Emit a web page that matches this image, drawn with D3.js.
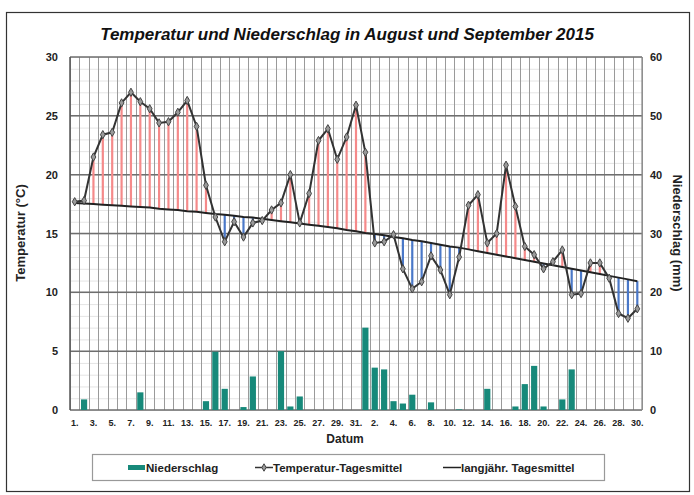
<!DOCTYPE html>
<html><head><meta charset="utf-8">
<script src="https://cdn.jsdelivr.net/npm/d3@7"></script>
<style>body{margin:0;background:#fff}svg{display:block}text{font-family:"Liberation Sans",Arial,sans-serif}</style>
</head><body><svg id="c" width="694" height="495"></svg>
<script>
const days = [];
for (let d = 1; d <= 31; d++) days.push({m: 8, d});
for (let d = 1; d <= 30; d++) days.push({m: 9, d});
const dayLabels = days.map(o => o.d + ".");
const tempMean = [17.7,17.8,21.5,23.4,23.6,26.1,27.0,26.2,25.6,24.4,24.5,25.3,26.3,24.1,19.1,16.4,14.3,16.0,14.7,15.9,16.1,17.0,17.6,20.0,15.9,18.4,22.9,23.9,21.3,23.2,25.9,
  21.9,14.2,14.3,14.9,12.0,10.3,10.9,13.1,11.9,9.8,13.0,17.4,18.3,14.2,15.0,20.8,17.3,13.9,13.2,12.0,12.6,13.6,9.8,9.9,12.5,12.5,11.2,8.2,7.8,8.6];
const longTerm = [17.6,17.55,17.5,17.45,17.4,17.35,17.3,17.25,17.2,17.1,17.05,17.0,16.9,16.85,16.75,16.65,16.6,16.5,16.4,16.35,16.25,16.15,16.05,15.95,15.85,15.75,15.65,15.55,15.45,15.3,15.2,
  15.05,14.95,14.85,14.7,14.6,14.45,14.35,14.2,14.05,13.9,13.8,13.65,13.5,13.35,13.2,13.05,12.9,12.75,12.6,12.45,12.3,12.15,12.0,11.85,11.7,11.55,11.4,11.25,11.1,10.95];
const precip = [0,1.8,0,0,0,0,0,3.0,0,0,0,0,0,0,1.5,9.9,3.6,0,0.5,5.7,0,0,10.0,0.6,2.3,0,0,0,0,0,0,
  14.0,7.2,6.9,1.5,1.1,2.6,0,1.3,0,0,0.1,0,0,3.6,0,0,0.6,4.4,7.5,0.6,0,1.8,6.9,0,0,0,0,0,0,0];
const tempTicks = [0,5,10,15,20,25,30];
const precTicks = [0,10,20,30,40,50,60];
const title = "Temperatur und Niederschlag in August und September 2015";
const legendLabels = ["Niederschlag", "Temperatur-Tagesmittel", "langjähr. Tagesmittel"];

const svg = d3.select("#c");
const L = 70, R = 642, T = 57, B = 410;
const keys = days.map((o, i) => i);
const x = d3.scaleBand().domain(keys).range([L, R]).padding(0);
const yT = d3.scaleLinear().domain([0, 30]).range([B, T]);
const yP = d3.scaleLinear().domain([0, 60]).range([B, T]);
const cx = i => x(i) + x.bandwidth() / 2;

svg.append("rect").attr("x", 6.5).attr("y", 12.5).attr("width", 683).attr("height", 479)
  .attr("fill", "#fff").attr("stroke", "#333").attr("stroke-width", 1.2);

const g = svg.append("g");
g.selectAll(".hm").data(d3.range(0, 31, 1)).join("line")
  .attr("x1", L).attr("x2", R).attr("y1", d => yT(d) + 0.5).attr("y2", d => yT(d) + 0.5)
  .attr("stroke", "#e4e4e4").attr("stroke-width", 1);
g.selectAll(".v").data(d3.range(0, 62)).join("line")
  .attr("x1", i => Math.round(L + i * x.step()) + 0.5).attr("x2", i => Math.round(L + i * x.step()) + 0.5)
  .attr("y1", T).attr("y2", B).attr("stroke", "#9a9a9a").attr("stroke-width", 1);
g.selectAll(".hM").data(tempTicks).join("line")
  .attr("x1", L).attr("x2", R).attr("y1", d => yT(d)).attr("y2", d => yT(d))
  .attr("stroke", "#6e6e6e").attr("stroke-width", 1.5);
svg.append("line").attr("x1", L).attr("x2", L).attr("y1", T).attr("y2", B).attr("stroke", "#555").attr("stroke-width", 1.5);
svg.append("line").attr("x1", R).attr("x2", R).attr("y1", T).attr("y2", B).attr("stroke", "#888").attr("stroke-width", 1.2);

const bw = x.bandwidth() * 0.66;
svg.append("g").selectAll("rect").data(precip.map((v, i) => ({v, i})).filter(o => o.v > 0)).join("rect")
  .attr("x", o => cx(o.i) - bw / 2).attr("width", bw)
  .attr("y", o => yP(o.v)).attr("height", o => B - yP(o.v))
  .attr("fill", "#17897a");

svg.append("g").selectAll("line").data(keys).join("line")
  .attr("x1", cx).attr("x2", cx)
  .attr("y1", i => yT(longTerm[i])).attr("y2", i => yT(tempMean[i]))
  .attr("stroke", i => tempMean[i] >= longTerm[i] ? "#f58a8a" : "#4a78c8")
  .attr("stroke-width", 2.2);

svg.append("path").datum(keys)
  .attr("d", d3.line().x(cx).y(i => yT(longTerm[i])))
  .attr("fill", "none").attr("stroke", "#222").attr("stroke-width", 2);

svg.append("path").datum(keys)
  .attr("d", d3.line().x(cx).y(i => yT(tempMean[i])))
  .attr("fill", "none").attr("stroke", "#333").attr("stroke-width", 2);
const sym = d3.symbol().type(d3.symbolDiamond).size(20);
svg.append("g").selectAll("path").data(keys).join("path")
  .attr("transform", i => `translate(${cx(i)},${yT(tempMean[i])})`)
  .attr("d", sym).attr("fill", "#9a9a9a").attr("stroke", "#444").attr("stroke-width", 1);

const lab = svg.append("g").attr("font-weight", "bold").attr("fill", "#222");
lab.selectAll(".lt").data(tempTicks).join("text")
  .attr("x", 58).attr("y", d => yT(d) + 4).attr("text-anchor", "end").attr("font-size", 11).text(d => d);
lab.selectAll(".rt").data(precTicks).join("text")
  .attr("x", 650).attr("y", d => yP(d) + 4).attr("text-anchor", "start").attr("font-size", 11).text(d => d);
lab.selectAll(".xt").data(keys.filter(i => i % 2 === 0)).join("text")
  .attr("x", cx).attr("y", 426).attr("text-anchor", "middle").attr("font-size", 9).text(i => dayLabels[i]);
lab.append("text").attr("x", 345).attr("y", 443).attr("text-anchor", "middle").attr("font-size", 12).text("Datum");
lab.append("text").attr("transform", "translate(25,233) rotate(-90)").attr("text-anchor", "middle").attr("font-size", 13).text("Temperatur (°C)");
lab.append("text").attr("transform", "translate(673,233) rotate(90)").attr("text-anchor", "middle").attr("font-size", 13).text("Niederschlag (mm)");
svg.append("text").attr("x", 347).attr("y", 40).attr("text-anchor", "middle").attr("font-size", 17)
  .attr("font-weight", "bold").attr("font-style", "italic").attr("fill", "#111").text(title);

const lg = svg.append("g");
lg.append("rect").attr("x", 92.5).attr("y", 454.5).attr("width", 512).attr("height", 26)
  .attr("fill", "#fff").attr("stroke", "#999").attr("stroke-width", 1.2);
lg.append("rect").attr("x", 128).attr("y", 465).attr("width", 17).attr("height", 5).attr("fill", "#17897a");
lg.append("text").attr("x", 146).attr("y", 471.5).attr("font-size", 11.5).attr("font-weight", "bold").attr("fill", "#222").text(legendLabels[0]);
lg.append("line").attr("x1", 255).attr("x2", 273).attr("y1", 467.5).attr("y2", 467.5).attr("stroke", "#333").attr("stroke-width", 1.5);
lg.append("path").attr("transform", "translate(264,467.5)").attr("d", d3.symbol().type(d3.symbolDiamond).size(16)).attr("fill", "#9a9a9a").attr("stroke", "#444");
lg.append("text").attr("x", 273).attr("y", 471.5).attr("font-size", 11.5).attr("font-weight", "bold").attr("fill", "#222").text(legendLabels[1]);
lg.append("line").attr("x1", 443).attr("x2", 461).attr("y1", 467.5).attr("y2", 467.5).attr("stroke", "#222").attr("stroke-width", 1.5);
lg.append("text").attr("x", 461).attr("y", 471.5).attr("font-size", 11.5).attr("font-weight", "bold").attr("fill", "#222").text(legendLabels[2]);
</script></body></html>
